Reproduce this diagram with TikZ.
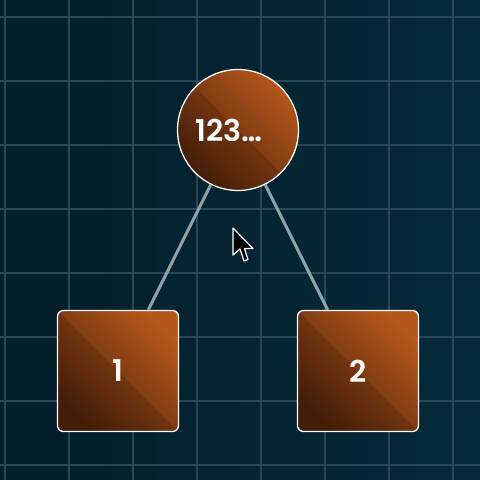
\documentclass[tikz,border=0pt]{standalone}
\usepackage{fontspec}
\setmainfont{Poppins}[BoldFont={Poppins SemiBold}]
\definecolor{bgleft}{HTML}{041E29}
\definecolor{bgright}{HTML}{03293A}
\definecolor{gridcol}{HTML}{2A4853}
\definecolor{edgegray}{HTML}{8FA2A8}
\definecolor{nodedark}{HTML}{4E220A}
\definecolor{nodelight}{HTML}{B5561A}
\begin{document}
\begin{tikzpicture}[x=1pt, y=-1pt,
    tone/.style={draw=white, line width=1.3pt, inner sep=0pt, text=white,
        font=\bfseries\fontsize{30}{30}\selectfont,
        bottom color=nodedark, top color=nodelight, shading angle=-45,
        path picture={\fill[black, opacity=0.12] (path picture bounding box.north west)
            -- (path picture bounding box.south east) -- (path picture bounding box.south west) -- cycle;}},
    rootnode/.style={tone, circle, minimum size=121pt},
    leafnode/.style={tone, rectangle, rounded corners=6pt, minimum size=121pt},
    edge/.style={draw=edgegray, line width=3pt},
    gridline/.style={draw=gridcol, line width=1.1pt}]
    % Background and grid
    \useasboundingbox (0,0) rectangle (480,480);
    \shade[left color=bgleft, right color=bgright] (0,0) rectangle (480,480);
    \foreach \g in {5,69,...,453} \draw[gridline] (\g,0) -- (\g,480);
    \foreach \g in {17,81,...,465} \draw[gridline] (0,\g) -- (480,\g);
    
    % Root
    \node[rootnode, label={[xshift=-9pt, text=white, font=\bfseries\fontsize{30}{30}\selectfont]center:123…}] (R) at (238,130) {};
    
    % Children
    \node[leafnode] (C1) at (118,371) {1};
    \node[leafnode] (C2) at (358,371) {2};
    
    % Edges from root to children
    \draw[edge] (R) -- (C1);
    \draw[edge] (R) -- (C2);
    
    % Pointer
    \filldraw[fill=black, draw=white, line width=1.2pt, line join=round, shift={(233,228)}]
        (0,0) -- (0,27) -- (7,21) -- (11,33) -- (15,31.5) -- (11.5,20.5) -- (20,20.5) -- cycle;
\end{tikzpicture}
\end{document}
